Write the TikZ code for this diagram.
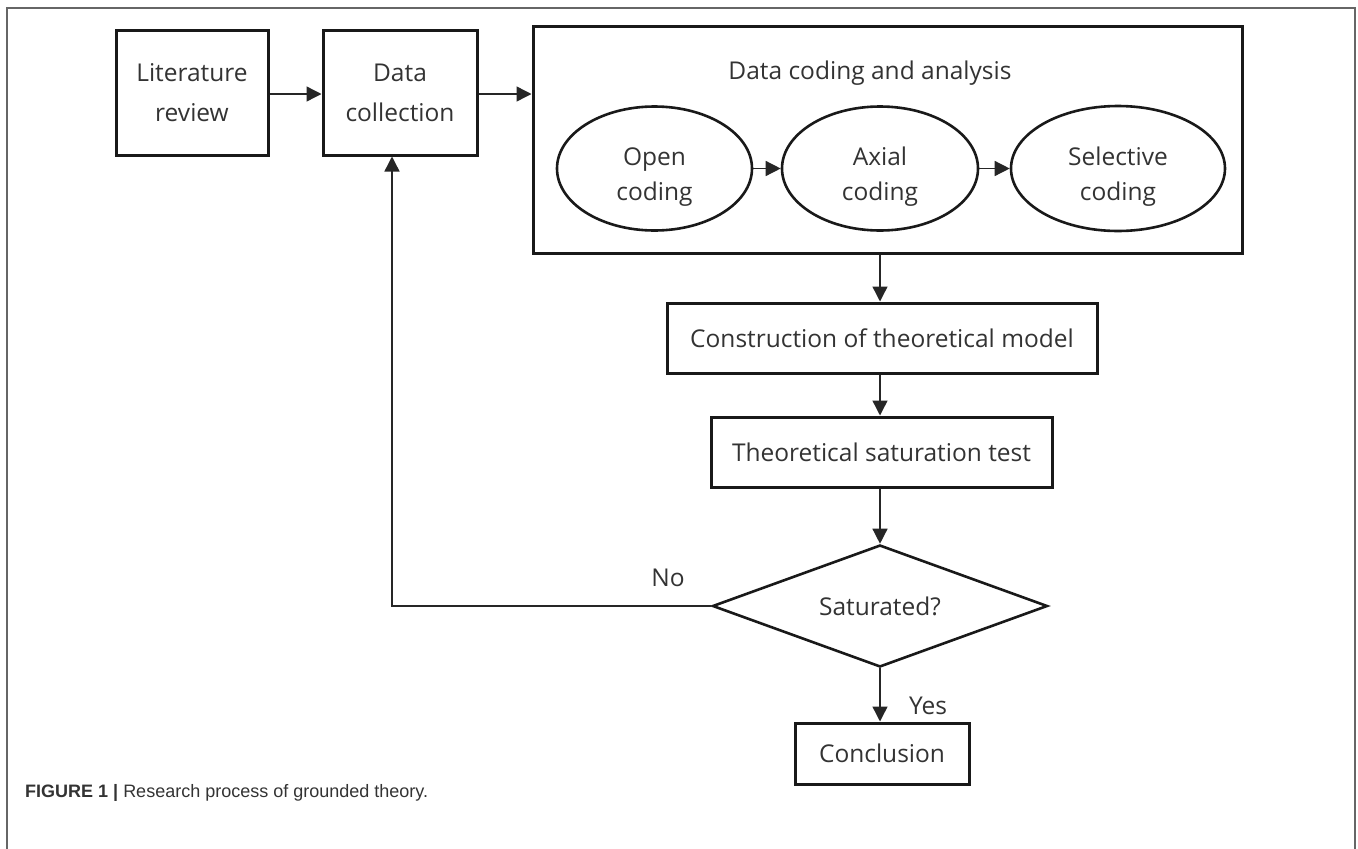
\documentclass[tikz,border=0pt]{standalone}
\usepackage{fontspec}
\setmainfont{Open Sans}
\newfontfamily\capfont{Liberation Sans}
\usetikzlibrary{arrows.meta,shapes.geometric}
\begin{document}
\begin{tikzpicture}[x=1pt,y=-1pt,
  every node/.style={font=\fontsize{24.5}{40}\selectfont, text=black!80},
  boxnode/.style={draw=black!90, line width=3pt, inner sep=0pt, align=center},
  ellnode/.style={ellipse, draw=black!90, line width=2.6pt, inner sep=0pt},
  elltext/.style={align=center, inner sep=0pt, font=\fontsize{24.5}{35}\selectfont},
  dianode/.style={diamond, draw=black!90, line width=2.6pt, inner sep=0pt, aspect=2.75},
  conn/.style={line width=1.4pt, draw=black!85, -{Triangle[length=15pt,width=15pt]}},
  lbl/.style={font=\fontsize{24.5}{28}\selectfont}
]
\useasboundingbox (0,0) rectangle (1358,849);
% outer frame (open at bottom)
\draw[line width=1.3pt, draw=black!60] (7,849) -- (7,8) -- (1355,8) -- (1355,849);

\node[boxnode, minimum width=152pt, minimum height=125pt] (lit) at (192,92.5) {Literature\\review};
\node[boxnode, minimum width=154pt, minimum height=125pt] (dc) at (400,92.5) {Data\\collection};
\node[boxnode, minimum width=709pt, minimum height=227pt] (big) at (887.5,139.5) {};
\node[lbl] (bigt) at (870,73) {Data coding and analysis};
\node[ellnode, minimum width=195pt, minimum height=124pt] (open) at (654.5,168.5) {};
\node[ellnode, minimum width=196pt, minimum height=124pt] (axial) at (880,168.5) {};
\node[ellnode, minimum width=214pt, minimum height=125pt] (sel) at (1118,168.5) {};
\node[elltext, anchor=base] (openT) at (654.5,200) {Open\\coding};
\node[elltext, anchor=base] (axialT) at (880,200) {Axial\\coding};
\node[elltext, anchor=base] (selT) at (1118,200) {Selective\\coding};
\node[boxnode, minimum width=430pt, minimum height=70pt] (cons) at (882,338) {Construction of theoretical model};
\node[boxnode, minimum width=341pt, minimum height=70pt] (sat) at (881.5,452) {Theoretical saturation test};
\node[dianode, minimum width=335pt, minimum height=122pt] (dia) at (880,606) {};
\node[font=\fontsize{24.5}{28}\selectfont] (diat) at (880,606) {Saturated?};
\node[boxnode, minimum width=174pt, minimum height=61pt] (conc) at (882,753.5) {Conclusion};
\node[lbl] (no) at (668,578) {No};
\node[lbl] (yes) at (928,706) {Yes};
\coordinate (lc) at (392,606);

\draw[conn] (lit.east |- 0,94) -- (dc.west |- 0,94);
\draw[conn] (dc.east |- 0,94) -- (big.west |- 0,94);
\draw[conn] (open.east) -- (axial.west);
\draw[conn] (axial.east) -- (sel.west);
\draw[conn] (big.south -| 880,0) -- (cons.north -| 880,0);
\draw[conn] (cons.south -| 880,0) -- (sat.north -| 880,0);
\draw[conn] (sat.south -| 880,0) -- (dia.north);
\draw[conn] (dia.south) -- (conc.north -| dia.south);
\draw[conn] (dia.west) -- (lc) -- (dc.south -| lc);

\node[anchor=west, inner sep=0pt, font=\capfont\fontsize{18}{20}\selectfont, text=black!80] (cap) at (25,793) {\textbf{FIGURE 1} \textbf{|} Research process of grounded theory.};
\end{tikzpicture}
\end{document}
